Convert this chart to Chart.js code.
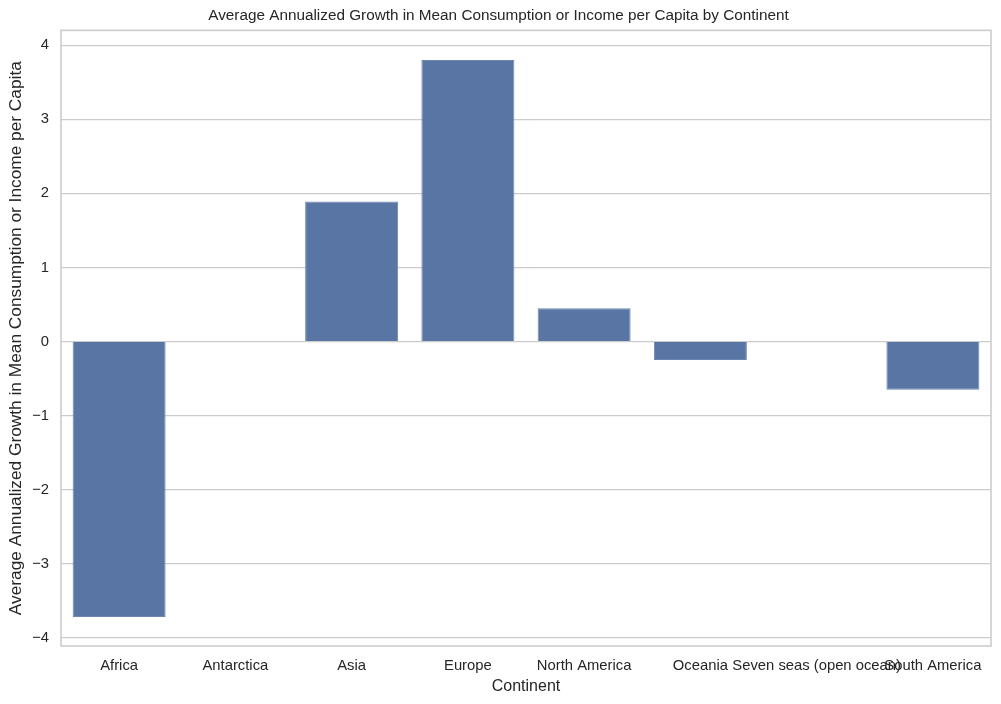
<!DOCTYPE html>
<html>
<head>
<meta charset="utf-8">
<script src="https://cdn.jsdelivr.net/npm/chart.js@4"></script>
<style>
  html, body { margin: 0; padding: 0; background: #fff; }
  #wrap { width: 1001px; height: 704px; }
</style>
</head>
<body>
<div id="wrap"><canvas id="growthChart" width="1001" height="704"></canvas></div>
<script>
const continents = ["Africa", "Antarctica", "Asia", "Europe", "North America", "Oceania", "Seven seas (open ocean)", "South America"];
const avgGrowth = [-3.72, null, 1.89, 3.80, 0.45, -0.25, null, -0.65];
const yTicks = [-4, -3, -2, -1, 0, 1, 2, 3, 4];

const FONT = "'Liberation Sans', Arial, sans-serif";
const GRID = "#cccccc";

// light grey frame on all four sides, like the seaborn whitegrid spines
const framePlugin = {
  id: "frame",
  afterDatasetsDraw(chart) {
    const { ctx, chartArea: a } = chart;
    ctx.save();
    ctx.strokeStyle = GRID;
    ctx.lineWidth = 1.6;
    ctx.strokeRect(a.left, a.top, a.right - a.left, a.bottom - a.top);
    ctx.restore();
  },
};

document.addEventListener("DOMContentLoaded", () => {
  const ctx = document.getElementById("growthChart").getContext("2d");
  new Chart(ctx, {
    type: "bar",
    data: {
      labels: continents,
      datasets: [
        {
          label: "Average Annualized Growth",
          data: avgGrowth,
          backgroundColor: "#5875a4",
          borderColor: "#6d87b1",
          borderWidth: 1,
          barPercentage: 0.8,
          categoryPercentage: 1.0,
        },
      ],
    },
    options: {
      responsive: false,
      animation: false,
      devicePixelRatio: 1,
      layout: { padding: { left: 6, right: 10, top: 0, bottom: 8 } },
      plugins: {
        legend: { display: false },
        tooltip: { enabled: false },
        title: {
          display: true,
          text: "Average Annualized Growth in Mean Consumption or Income per Capita by Continent",
          color: "#262626",
          font: { family: FONT, size: 15.3, weight: "normal" },
          padding: { top: 7, bottom: 5 },
        },
      },
      scales: {
        x: {
          offset: true,
          grid: { display: false, drawTicks: false },
          border: { display: false },
          ticks: {
            autoSkip: false,
            maxRotation: 0,
            minRotation: 0,
            padding: 11,
            color: "#262626",
            font: { family: FONT, size: 14.8 },
          },
          title: {
            display: true,
            text: "Continent",
            color: "#262626",
            font: { family: FONT, size: 16 },
            padding: { top: 0, bottom: 0 },
          },
          afterFit(scale) { scale.height = 50; },
        },
        y: {
          min: -4.11,
          max: 4.2,
          afterBuildTicks(scale) { scale.ticks = yTicks.map((v) => ({ value: v })); },
          grid: { color: GRID, lineWidth: 1.2, drawTicks: false },
          border: { display: false },
          ticks: {
            padding: 12,
            color: "#262626",
            font: { family: FONT, size: 14.8 },
            callback: (v) => String(v).replace("-", "\u2212"),
          },
          title: {
            display: true,
            text: "Average Annualized Growth in Mean Consumption or Income per Capita",
            color: "#262626",
            font: { family: FONT, size: 17.3 },
            padding: { top: 0, bottom: 4 },
          },
          afterFit(scale) { scale.width = 55; },
        },
      },
    },
    plugins: [framePlugin],
  });
});
</script>
</body>
</html>
